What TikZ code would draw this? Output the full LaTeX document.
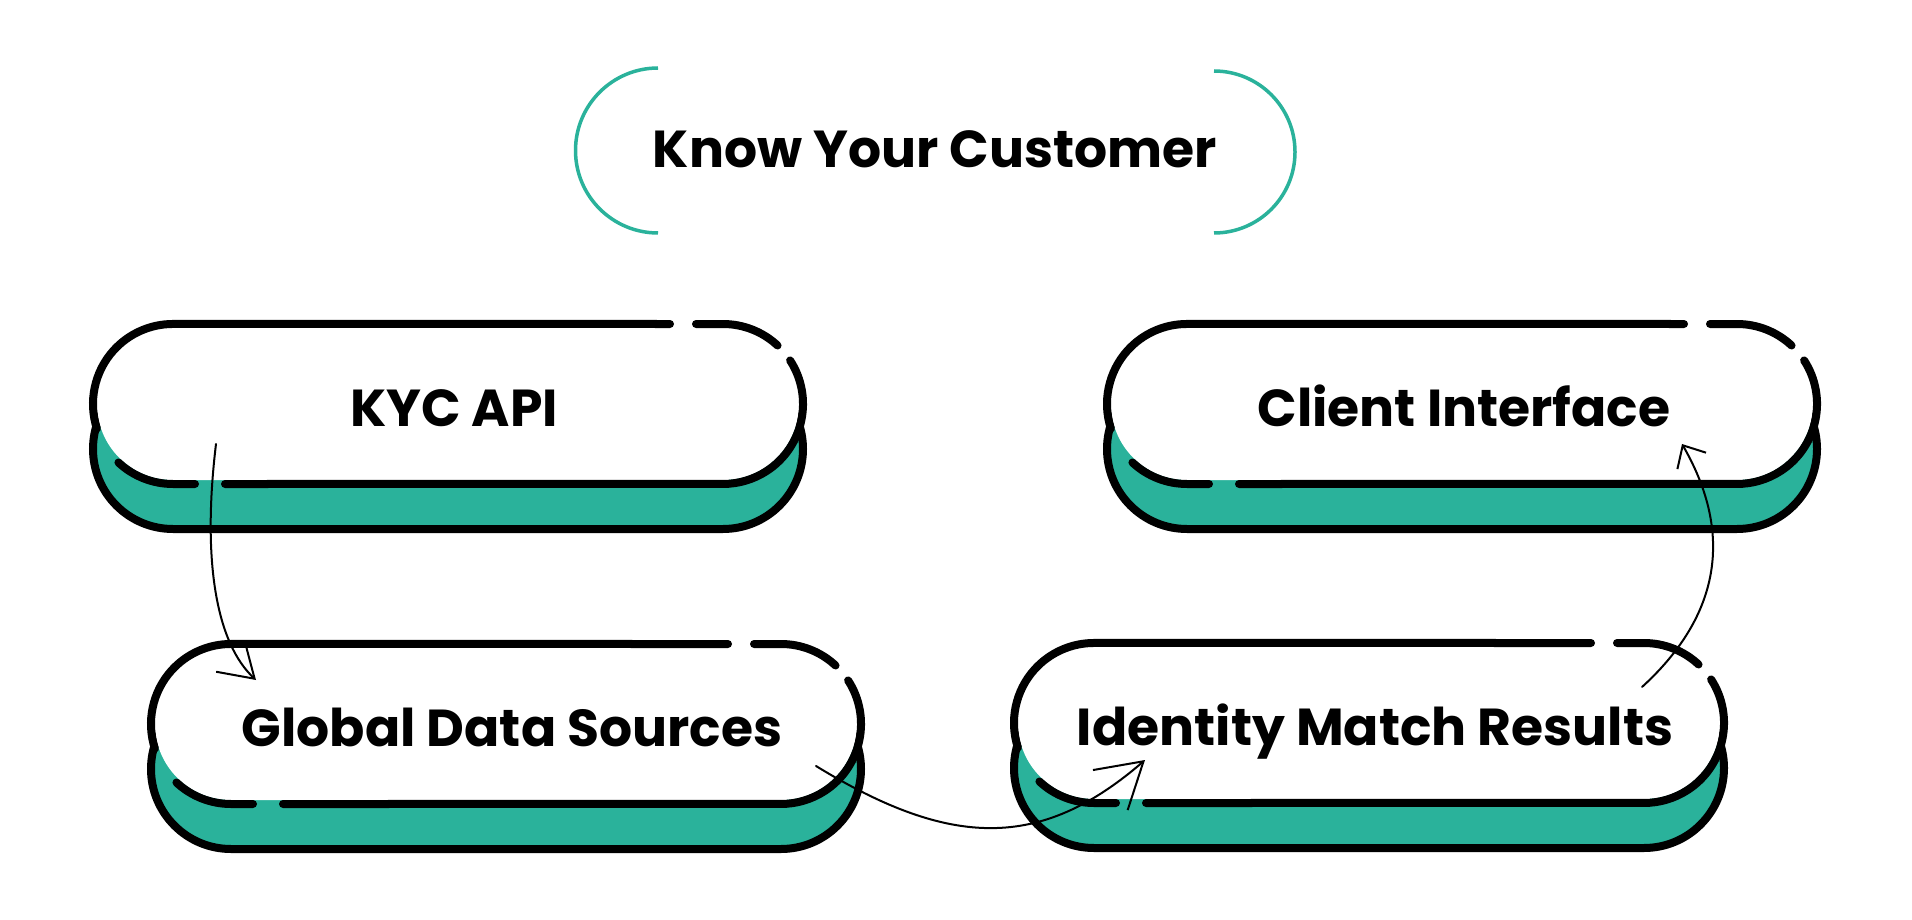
\documentclass[tikz,border=0pt]{standalone}
\usepackage{fontspec}
\setmainfont{Poppins}
\usetikzlibrary{arrows.meta}
\definecolor{kteal}{RGB}{42,178,155}
\tikzset{
  boxline/.style={line width=8pt, draw=black, line cap=round, line join=round},
  backpill/.style={line width=8pt, draw=black, fill=kteal, rounded corners=80pt},
  frontfill/.style={fill=white, rounded corners=76pt},
  boxtext/.style={anchor=base, inner sep=0pt, font=\fontsize{52}{60}\selectfont\bfseries},
  bracket/.style={draw=kteal, line width=3.5pt},
  conn/.style={line width=2pt, draw=black, line cap=round, line join=round},
}
% #1 name, #2 cx, #3 cy, #4 text dx, #5 text
\newcommand{\pillbox}[5]{%
  \begin{scope}[shift={(#2,#3)}]
    \draw[backpill] (-355,-35) rectangle (355,125);
    \fill[frontfill] (-351,-76) rectangle (351,76);
    \draw[boxline] (248,-80) -- (275,-80) arc[start angle=270,end angle=313,radius=80];
    \draw[boxline] (342.1,-43.6) arc[start angle=327,end angle=450,radius=80] -- (-223,80);
    \draw[boxline] (-253,80) -- (-275,80) arc[start angle=90,end angle=133,radius=80];
    \draw[boxline] (-351.1,24.7) arc[start angle=162,end angle=270,radius=80] -- (222,-80);
    \node[boxtext] (#1) at (#4,22) {#5};
  \end{scope}}
\begin{document}
\begin{tikzpicture}[x=1pt,y=-1pt]
\useasboundingbox (0,0) rectangle (1912,920);
% title
\draw[bracket] (658,68) arc[start angle=270,end angle=90,radius=82.5];
\draw[bracket] (1214,71) arc[start angle=270,end angle=450,radius=81];
\node[boxtext] (title) at (935,168) {Know Your Customer};
% boxes
\pillbox{kyc}{448}{404}{6}{KYC API}
\pillbox{client}{1462}{404}{2}{Client Interface}
\pillbox{global}{506}{724}{6}{Global Data Sources}
\pillbox{identity}{1369}{723}{6}{Identity Match Results}
% connectors
\coordinate (a1s) at (216,444);
\coordinate (a1e) at (256,680);
\coordinate (a2s) at (816,766);
\coordinate (a2e) at (1145,760);
\coordinate (a3s) at (1642,687);
\coordinate (a3e) at (1682,444);
\draw[conn, -{Straight Barb[length=33pt,width=42pt]}] (a1s) .. controls (202,560) and (216,643) .. (a1e);
\draw[conn, -{Straight Barb[length=44pt,width=53pt]}] (a2s) .. controls (950,848) and (1040,851) .. (a2e);
\draw[conn, -{Straight Barb[length=18pt,width=33pt]}] (a3s) .. controls (1710,625) and (1740,545) .. (a3e);
\end{tikzpicture}
\end{document}
